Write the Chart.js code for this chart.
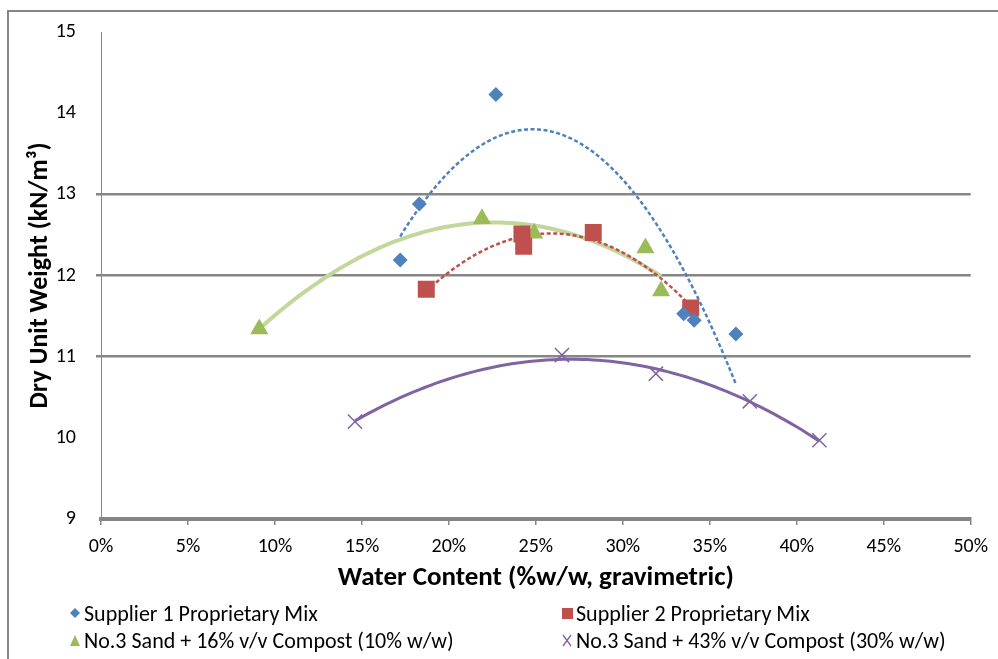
<!DOCTYPE html>
<html>
<head>
<meta charset="utf-8">
<script src="https://cdn.jsdelivr.net/npm/chart.js@4"></script>
<style>
  body { margin: 0; background: #fff; }
  #wrap { position: relative; width: 998px; height: 659px; overflow: hidden; font-family: Carlito, Calibri, Lato, sans-serif; }
  #frame { position: absolute; left: 7px; top: 10px; width: 1100px; height: 800px; border: 2px solid #868686; box-sizing: border-box; }
  #chart { position: absolute; left: 0; top: 0; }
  .leg { position: absolute; font-size: 22px; color: #000; display: flex; align-items: center; white-space: nowrap; height: 24px; }
  .leg svg { margin-right: 1px; }
</style>
</head>
<body>
<div id="wrap">
  <div id="frame"></div>
  <canvas id="chart" width="998" height="659"></canvas>
  <div id="legend"></div>
</div>
<script>
// data (water content as a fraction, dry unit weight in kN/m3)
const seriesNames = [
  'Supplier 1 Proprietary Mix',
  'Supplier 2 Proprietary Mix',
  'No.3 Sand + 16% v/v Compost (10% w/w)',
  'No.3 Sand + 43% v/v Compost (30% w/w)'
];
const supplier1Water = [0.172, 0.183, 0.227, 0.335, 0.341, 0.365];
const supplier1Weight = [12.19, 12.88, 14.23, 11.53, 11.45, 11.28];
const supplier2Water = [0.187, 0.242, 0.243, 0.283, 0.339];
const supplier2Weight = [11.83, 12.51, 12.36, 12.53, 11.60];
const sand16Water = [0.091, 0.219, 0.249, 0.313, 0.322];
const sand16Weight = [11.34, 12.70, 12.52, 12.34, 11.81];
const sand43Water = [0.146, 0.265, 0.319, 0.373, 0.413];
const sand43Weight = [10.20, 11.02, 10.79, 10.45, 9.97];
const gridValues = [11, 12, 13];

const colors = ['#4F81BD', '#C0504D', '#9BBB59', '#8064A2'];
const trendColors = ['#4F81BD', '#C0504D', '#C3D69B', '#8064A2'];
const markers = ['rectRot', 'rect', 'triangle', 'crossRot'];
const radii = [7.5, 12, 10.5, 10];

const allWater = [supplier1Water, supplier2Water, sand16Water, sand43Water];
const allWeight = [supplier1Weight, supplier2Weight, sand16Weight, sand43Weight];

// 2nd order least squares fit, like the spreadsheet trendline
function polyFit2(xs, ys) {
  let s = [0, 0, 0, 0, 0], t = [0, 0, 0];
  xs.forEach((x, i) => {
    for (let k = 0; k < 5; k++) s[k] += Math.pow(x, k);
    for (let k = 0; k < 3; k++) t[k] += Math.pow(x, k) * ys[i];
  });
  const m = [
    [s[0], s[1], s[2], t[0]],
    [s[1], s[2], s[3], t[1]],
    [s[2], s[3], s[4], t[2]]
  ];
  for (let c = 0; c < 3; c++) {
    for (let r = c + 1; r < 3; r++) {
      const f = m[r][c] / m[c][c];
      for (let k = c; k < 4; k++) m[r][k] -= f * m[c][k];
    }
  }
  const a = [0, 0, 0];
  for (let r = 2; r >= 0; r--) {
    let v = m[r][3];
    for (let k = r + 1; k < 3; k++) v -= m[r][k] * a[k];
    a[r] = v / m[r][r];
  }
  return a;
}

function trendPoints(xs, ys) {
  const a = polyFit2(xs, ys);
  const lo = Math.min(...xs), hi = Math.max(...xs);
  const pts = [];
  for (let i = 0; i <= 80; i++) {
    const x = lo + (hi - lo) * i / 80;
    pts.push({ x: x, y: a[0] + a[1] * x + a[2] * x * x });
  }
  return pts;
}

const datasets = [];
allWater.forEach((xs, i) => {
  datasets.push({
    label: seriesNames[i] + ' trend',
    data: trendPoints(xs, allWeight[i]),
    showLine: true,
    borderColor: trendColors[i],
    borderWidth: i === 2 ? 4 : (i === 3 ? 3 : 2.5),
    borderDash: i < 2 ? [4, 2.5] : [],
    pointRadius: 0,
    fill: false,
    order: 2
  });
});
allWater.forEach((xs, i) => {
  datasets.push({
    label: seriesNames[i],
    data: xs.map((x, j) => ({ x: x, y: allWeight[i][j] })),
    pointStyle: markers[i],
    pointRadius: radii[i],
    backgroundColor: colors[i],
    borderColor: i === 3 ? '#8064A2' : colors[i],
    borderWidth: i === 3 ? 1.5 : 0,
    showLine: false,
    order: 1
  });
});

const fontFamily = 'Carlito, Calibri, Lato, sans-serif';

new Chart(document.getElementById('chart'), {
  type: 'scatter',
  data: { datasets: datasets },
  options: {
    responsive: false,
    animation: false,
    layout: { padding: { top: 30, right: 21, bottom: 0, left: 0 } },
    plugins: { legend: { display: false }, tooltip: { enabled: false } },
    scales: {
      x: {
        type: 'linear',
        min: 0, max: 0.5,
        ticks: {
          stepSize: 0.05,
          color: '#000',
          font: { family: fontFamily, size: 20 },
          padding: 10,
          callback: v => Math.round(v * 100) + '%'
        },
        grid: { drawOnChartArea: false, drawTicks: true, tickLength: 6, color: '#868686', lineWidth: 1.5 },
        border: { color: '#868686', width: 4 },
        title: {
          display: true,
          text: 'Water Content (%w/w, gravimetric)',
          color: '#000',
          font: { family: fontFamily, size: 27, weight: 'bold' },
          padding: { top: 65, bottom: 65 }
        },
        afterFit: s => { s.height = 140; }
      },
      y: {
        min: 9, max: 15,
        ticks: {
          stepSize: 1,
          color: '#000',
          font: { family: fontFamily, size: 20 },
          padding: 20
        },
        grid: {
          tickLength: 5,
          lineWidth: 2.5,
          color: c => gridValues.includes(c.tick && c.tick.value) ? '#868686' : 'rgba(0,0,0,0)'
        },
        border: { color: '#868686', width: 1 },
        title: {
          display: true,
          text: 'Dry Unit Weight (kN/m³)',
          color: '#000',
          font: { family: fontFamily, size: 26, weight: 'bold' },
          padding: { top: 25, bottom: 25 }
        },
        afterFit: s => { s.width = 101; }
      }
    }
  }
});

// legend in two columns, as in the original
const legendPos = [[67, 601], [559, 601], [67, 628], [559, 628]];
function markerSvg(i) {
  const c = colors[i];
  let shape = '';
  if (i === 0) shape = `<polygon points="8,3 13,8 8,13 3,8" fill="${c}"/>`;
  if (i === 1) shape = `<rect x="3" y="3" width="11" height="11" fill="${c}"/>`;
  if (i === 2) shape = `<polygon points="8,3 13,14 3,14" fill="${c}"/>`;
  if (i === 3) shape = `<path d="M4,3 L12,14 M12,3 L4,14" stroke="${c}" stroke-width="1.3"/>`;
  return `<svg width="16" height="16">${shape}</svg>`;
}
const legendEl = document.getElementById('legend');
seriesNames.forEach((name, i) => {
  const d = document.createElement('div');
  d.className = 'leg';
  d.style.left = legendPos[i][0] + 'px';
  d.style.top = legendPos[i][1] + 'px';
  d.innerHTML = markerSvg(i) + '<span>' + name + '</span>';
  legendEl.appendChild(d);
});
</script>
</body>
</html>
